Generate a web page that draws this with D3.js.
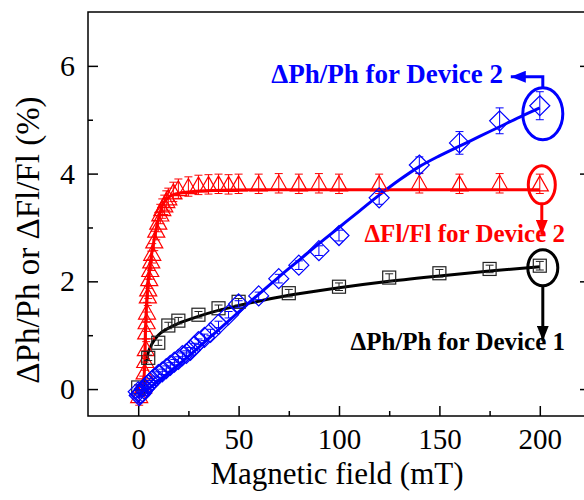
<!DOCTYPE html>
<html>
<head>
<meta charset="utf-8">
<script src="https://cdn.jsdelivr.net/npm/d3@7"></script>
<style>
  body { margin: 0; background: #fff; }
  svg { display: block; }
  text { font-family: "Liberation Serif", "Times New Roman", serif; }
</style>
</head>
<body>
<svg id="chart"></svg>
<script>
// ── ΔFl/Fl, device 2 (red triangles) ──
const flField = [0.5, 2.5, 3.2, 3.5, 3.8, 4.0, 4.2, 4.4, 4.8, 5.0, 5.5, 6, 6.5, 7, 8, 9, 10, 11, 12, 13, 14, 15, 17.5,
                 20, 25, 30, 35, 40, 45, 50, 60, 70, 80, 90, 100, 120, 140, 160, 180, 200];
const flVal   = [-0.12, 0.06, 0.32, 0.53, 0.75, 1.06, 1.25, 1.43, 1.73, 1.86, 2.05, 2.22, 2.38, 2.52, 2.75, 2.95, 3.1, 3.25, 3.35, 3.42, 3.5, 3.55, 3.66,
                 3.72, 3.76, 3.79, 3.8, 3.81, 3.8, 3.81, 3.81, 3.82, 3.81, 3.82, 3.81, 3.81, 3.82, 3.81, 3.82, 3.81];
const flErr   = 0.18;
const flFitField = [2.0, 3.1, 3.6, 4.5, 5.5, 7, 9.4, 12.6, 18.5, 33, 60, 200];
const flFitVal   = [-0.1, 0.35, 1.08, 1.83, 2.2, 2.57, 3.05, 3.45, 3.62, 3.68, 3.7, 3.7];

// ── ΔPh/Ph, device 1 (black squares) ──
const ph1Field = [0, 5, 10, 15, 20, 30, 40, 50, 75, 100, 125, 150, 175, 200];
const ph1Val   = [0.03, 0.58, 0.86, 1.18, 1.27, 1.38, 1.5, 1.62, 1.78, 1.9, 2.07, 2.15, 2.23, 2.29];
const ph1Err   = [0.05, 0.05, 0.05, 0.06, 0.06, 0.06, 0.06, 0.06, 0.07, 0.07, 0.07, 0.07, 0.07, 0.08];
const ph1FitField = [3.5, 5, 7, 10, 15, 20, 30, 40, 50, 60, 75, 100, 125, 150, 175, 200];
const ph1FitVal   = [0.45, 0.68, 0.85, 1.0, 1.13, 1.22, 1.35, 1.46, 1.55, 1.63, 1.74, 1.88, 2.0, 2.1, 2.19, 2.27];

// ── ΔPh/Ph, device 2 (blue diamonds) ──
const ph2Field = [0, 0.5, 1, 1.5, 2, 3, 4, 5, 6, 7, 8, 10, 12, 14, 16, 18, 20, 22, 24, 26, 28, 30, 33, 36, 40, 45, 50,
                  60, 70, 80, 90, 100, 120, 140, 160, 180, 200];
const ph2Val   = [-0.05, -0.12, -0.1, -0.08, -0.05, 0.0, 0.05, 0.08, 0.12, 0.16, 0.2, 0.27, 0.32, 0.38, 0.44, 0.5, 0.55, 0.62, 0.66, 0.72, 0.8, 0.88, 0.96, 1.05, 1.2, 1.38, 1.58,
                  1.73, 2.05, 2.3, 2.57, 2.85, 3.55, 4.16, 4.57, 4.98, 5.26];
const ph2Err   = [0.04, 0.04, 0.04, 0.04, 0.04, 0.04, 0.04, 0.04, 0.04, 0.04, 0.04, 0.05, 0.05, 0.05, 0.05, 0.05, 0.05, 0.05, 0.05, 0.05, 0.05, 0.05, 0.06, 0.06, 0.06, 0.06, 0.06,
                  0.07, 0.08, 0.08, 0.09, 0.1, 0.12, 0.15, 0.21, 0.24, 0.26];
const ph2FitField = [0, 5, 10, 20, 30, 40, 50, 60, 70, 80, 90, 100, 110, 120, 130, 140, 150, 160, 170, 180, 190, 200];
const ph2FitVal   = [-0.1, 0.0, 0.15, 0.45, 0.77, 1.1, 1.43, 1.76, 2.08, 2.39, 2.7, 3.0, 3.3, 3.6, 3.88, 4.13, 4.33, 4.51, 4.69, 4.87, 5.05, 5.22];

// ── axes ──
const xTicks = [0, 50, 100, 150, 200];
const xMinor = [25, 75, 125, 175];
const yTicks = [0, 2, 4, 6];
const yMinor = [1, 3, 5];

const RED = "#ff0000", BLUE = "#0000ff", BLACK = "#000000";
const W = 584, H = 500;
const margin = { top: 12, left: 88, right: -6, bottom: 84 };   // right frame edge sits just off-canvas
const width = W - margin.left - margin.right;
const height = H - margin.top - margin.bottom;

const svg = d3.select("#chart").attr("width", W).attr("height", H);
const g = svg.append("g").attr("transform", `translate(${margin.left},${margin.top})`);

const x = d3.scaleLinear().domain([-25, 225]).range([0, width]);
const y = d3.scaleLinear().domain([-0.5, 7]).range([height, 0]);

const zip = (xs, ys) => xs.map((v, i) => ({ b: v, v: ys[i] }));

function styleAxis(sel, fs) {
    sel.select(".domain").remove();
    sel.selectAll("line").attr("stroke", BLACK).attr("stroke-width", 1.5);
    sel.selectAll("text").attr("fill", BLACK).attr("font-size", fs)
        .style("font-family", '"Liberation Serif", "Times New Roman", serif');
}

// major + minor ticks, pointing inward
g.append("g").attr("transform", `translate(0,${height})`)
    .call(d3.axisBottom(x).tickValues(xTicks).tickSizeInner(-10).tickSizeOuter(0).tickPadding(12))
    .call(s => styleAxis(s, 29));
g.append("g").attr("transform", `translate(0,${height})`)
    .call(d3.axisBottom(x).tickValues(xMinor).tickSizeInner(-5).tickSizeOuter(0).tickFormat(""))
    .call(s => styleAxis(s, 29));
g.append("g")
    .call(d3.axisLeft(y).tickValues(yTicks).tickSizeInner(-10).tickSizeOuter(0).tickPadding(13))
    .call(s => styleAxis(s, 30));
g.append("g")
    .call(d3.axisLeft(y).tickValues(yMinor).tickSizeInner(-5).tickSizeOuter(0).tickFormat(""))
    .call(s => styleAxis(s, 30));
g.append("g").attr("transform", `translate(${width},0)`)
    .call(d3.axisRight(y).tickValues(yTicks).tickSizeInner(-10).tickSizeOuter(0).tickFormat(""))
    .call(s => styleAxis(s, 30));
g.append("g").attr("transform", `translate(${width},0)`)
    .call(d3.axisRight(y).tickValues(yMinor).tickSizeInner(-5).tickSizeOuter(0).tickFormat(""))
    .call(s => styleAxis(s, 30));

g.append("rect").attr("width", width).attr("height", height)
    .attr("fill", "none").attr("stroke", BLACK).attr("stroke-width", 1.5);

// axis titles
svg.append("text").attr("x", 337).attr("y", 484)
    .attr("text-anchor", "middle").attr("font-size", 31).text("Magnetic field (mT)");
svg.append("text").attr("transform", "translate(39,240) rotate(-90)")
    .attr("text-anchor", "middle").attr("font-size", 33).text("ΔPh/Ph or ΔFl/Fl (%)");

// ── fit lines ──
const lineGen = d3.line().x(d => x(d.b)).y(d => y(d.v)).curve(d3.curveMonotoneX);
[[flFitField, flFitVal, RED], [ph1FitField, ph1FitVal, BLACK], [ph2FitField, ph2FitVal, BLUE]].forEach(([f, v, c]) => {
    g.append("path").datum(zip(f, v)).attr("d", lineGen)
        .attr("fill", "none").attr("stroke", c).attr("stroke-width", 3);
});

// ── error bars + markers ──
function errBars(data, color) {
    const eb = g.append("g").attr("stroke", color).attr("stroke-width", 1).attr("fill", "none");
    data.forEach(d => {
        const x0 = x(d.b), y1 = y(d.v + d.e), y2 = y(d.v - d.e);
        eb.append("path").attr("d", `M${x0},${y1}V${y2}M${x0 - 4},${y1}h8M${x0 - 4},${y2}h8`);
    });
}

const redPts = flField.map((b, i) => ({ b, v: flVal[i], e: flErr }));
const blkPts = ph1Field.map((b, i) => ({ b, v: ph1Val[i], e: ph1Err[i] }));
const bluPts = ph2Field.map((b, i) => ({ b, v: ph2Val[i], e: ph2Err[i] }));

errBars(redPts, RED);
g.append("g").selectAll("path").data(redPts).enter().append("path")
    .attr("d", d => {
        const cx = x(d.b), cy = y(d.v);
        return `M${cx},${cy - 8}L${cx + 8.5},${cy + 7}L${cx - 8.5},${cy + 7}Z`;
    })
    .attr("fill", "none").attr("stroke", RED).attr("stroke-width", 1.2);

errBars(blkPts, "#222");
g.append("g").selectAll("rect").data(blkPts).enter().append("rect")
    .attr("x", d => x(d.b) - 6.5).attr("y", d => y(d.v) - 6.5)
    .attr("width", 13).attr("height", 13)
    .attr("fill", "none").attr("stroke", "#222").attr("stroke-width", 1.2);

errBars(bluPts, BLUE);
g.append("g").selectAll("path").data(bluPts).enter().append("path")
    .attr("d", d => {
        const cx = x(d.b), cy = y(d.v);
        return `M${cx},${cy - 10}L${cx + 10},${cy}L${cx},${cy + 10}L${cx - 10},${cy}Z`;
    })
    .attr("fill", "none").attr("stroke", BLUE).attr("stroke-width", 1.2);

// ── annotations: circled end points, arrows, labels ──
const defs = svg.append("defs");
[["arrBlue", BLUE], ["arrRed", RED], ["arrBlack", BLACK]].forEach(([id, c]) => {
    defs.append("marker").attr("id", id).attr("markerUnits", "userSpaceOnUse")
        .attr("markerWidth", 16).attr("markerHeight", 12).attr("refX", 15).attr("refY", 6)
        .attr("orient", "auto")
        .append("path").attr("d", "M0,0L15,6L0,12Z").attr("fill", c);
});

const ann = g.append("g").attr("fill", "none").attr("stroke-width", 3);
const last = arr => arr[arr.length - 1];

// blue
const bx = x(200) + 3, by = y(last(ph2Val)) + 8;
ann.append("ellipse").attr("cx", bx).attr("cy", by).attr("rx", 20).attr("ry", 26).attr("stroke", BLUE);
ann.append("path").attr("d", `M${bx},${by - 26}V${by - 37}H${bx - 32}`)
    .attr("stroke", BLUE).attr("marker-end", "url(#arrBlue)");
// red
const rx = x(200) + 2, ry = y(last(flVal)) + 1;
ann.append("ellipse").attr("cx", rx).attr("cy", ry).attr("rx", 13.5).attr("ry", 19).attr("stroke", RED);
ann.append("path").attr("d", `M${rx},${ry + 19}V${ry + 50}`)
    .attr("stroke", RED).attr("marker-end", "url(#arrRed)");
// black
const kx = x(200) + 3, ky = y(last(ph1Val)) + 2;
ann.append("ellipse").attr("cx", kx).attr("cy", ky).attr("rx", 15).attr("ry", 18).attr("stroke", BLACK);
ann.append("path").attr("d", `M${kx},${ky + 18}V${ky + 73}`)
    .attr("stroke", BLACK).attr("marker-end", "url(#arrBlack)");

const labels = [
    { t: "ΔPh/Ph for Device 2", x: 503, y: 83,  c: BLUE,  fs: 27 },
    { t: "ΔFl/Fl for Device 2", x: 565, y: 242, c: RED,   fs: 25 },
    { t: "ΔPh/Ph for Device 1", x: 565, y: 350, c: BLACK, fs: 25 }
];
svg.selectAll("text.anno").data(labels).enter().append("text").attr("class", "anno")
    .attr("x", d => d.x).attr("y", d => d.y).attr("text-anchor", "end")
    .attr("font-size", d => d.fs).attr("font-weight", "bold").attr("fill", d => d.c)
    .text(d => d.t);
</script>
</body>
</html>
